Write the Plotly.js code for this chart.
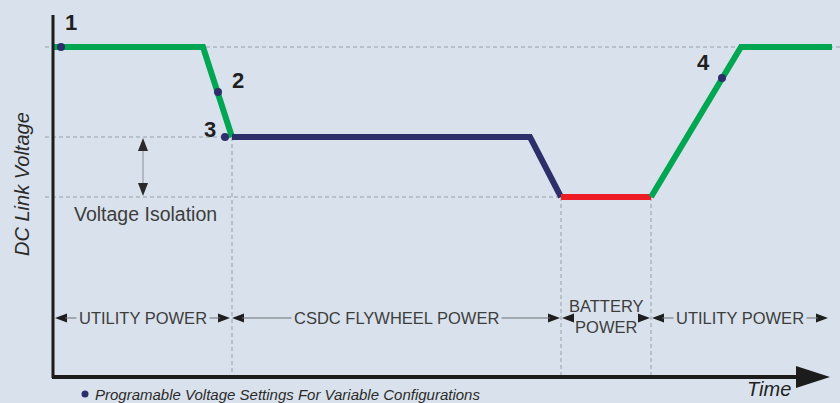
<!DOCTYPE html>
<html>
<head>
<meta charset="utf-8">
<script src="https://cdn.plot.ly/plotly-3.0.1.min.js"></script>
<style>html,body{margin:0;padding:0;background:#d9e2ec;}#chart{width:840px;height:403px;}</style>
</head>
<body>
<div id="chart"></div>
<script>
// ---- data (time units / voltage units on a schematic scale) ----
const utility1Time = [53, 203, 232];
const utility1Volt = [356, 356, 266];
const flywheelTime = [232, 530, 561];
const flywheelVolt = [266, 266, 206];
const batteryTime  = [561, 651];
const batteryVolt  = [206, 206];
const utility2Time = [651, 741, 832];
const utility2Volt = [206, 356, 356];

const setpointTime   = [61, 218, 225, 722];
const setpointVolt   = [356, 311, 266, 325];
const setpointLabels = ['1', '2', '3', '4'];

const phaseNames = ['UTILITY POWER', 'CSDC FLYWHEEL POWER', 'BATTERY<br>POWER', 'UTILITY POWER'];
const phaseStart = [55, 232, 562, 652];
const phaseEnd   = [230, 560, 650, 828];

const levelHigh = 356, levelMid = 266, levelLow = 206;
const axisTime0 = 53, axisVolt0 = 26, axisTimeEnd = 830, axisVoltTop = 388;

const BG = '#d9e2ec';
const GREEN = '#00a651', NAVY = '#2d2f6a', RED = '#ed1c24';

function seg(x, y, color) {
  return {x: x, y: y, type: 'scatter', mode: 'lines', hoverinfo: 'skip', showlegend: false,
          line: {color: color, width: 6, shape: 'linear'}};
}

const traces = [
  seg(utility1Time, utility1Volt, GREEN),
  seg(flywheelTime, flywheelVolt, NAVY),
  seg(batteryTime, batteryVolt, RED),
  seg(utility2Time, utility2Volt, GREEN),
  {x: setpointTime, y: setpointVolt, type: 'scatter', mode: 'markers', showlegend: false,
   marker: {color: NAVY, size: 8}, hoverinfo: 'skip'},
  {x: [85], y: [9], type: 'scatter', mode: 'markers', showlegend: false,
   marker: {color: NAVY, size: 7}, hoverinfo: 'skip'}
];

const dashStyle = {color: '#979ea8', width: 1, dash: '4px,3px'};
const shapes = [
  // dashed guides
  {type: 'line', layer: 'below', x0: 45, x1: 840, y0: levelHigh, y1: levelHigh, line: dashStyle},
  {type: 'line', layer: 'below', x0: 45, x1: flywheelTime[0], y0: levelMid, y1: levelMid, line: dashStyle},
  {type: 'line', layer: 'below', x0: 45, x1: batteryTime[0], y0: levelLow, y1: levelLow, line: dashStyle},
  {type: 'line', layer: 'below', x0: flywheelTime[0], x1: flywheelTime[0], y0: levelMid, y1: axisVolt0, line: dashStyle},
  {type: 'line', layer: 'below', x0: batteryTime[0], x1: batteryTime[0], y0: levelLow, y1: axisVolt0, line: dashStyle},
  {type: 'line', layer: 'below', x0: batteryTime[1], x1: batteryTime[1], y0: levelLow, y1: axisVolt0, line: dashStyle},
  // axes
  {type: 'line', x0: axisTime0, x1: axisTime0, y0: axisVolt0 - 1, y1: axisVoltTop, line: {color: '#1c1c1c', width: 3}},
  {type: 'line', x0: axisTime0 - 1, x1: 800, y0: axisVolt0, y1: axisVolt0, line: {color: '#1c1c1c', width: 4}},
  {type: 'path', path: `M 796 ${axisVolt0 + 11} L ${axisTimeEnd} ${axisVolt0} L 796 ${axisVolt0 - 11} Z`,
   fillcolor: '#1c1c1c', line: {width: 0}},
  // voltage isolation arrow
  {type: 'line', x0: 143, x1: 143, y0: levelMid - 12, y1: levelLow + 12, line: {color: '#8a8f96', width: 1}},
  {type: 'path', path: `M 143 ${levelMid - 1} L 138 ${levelMid - 14} L 148 ${levelMid - 14} Z`, fillcolor: '#2a2a2a', line: {width: 0}},
  {type: 'path', path: `M 143 ${levelLow + 1} L 138 ${levelLow + 14} L 148 ${levelLow + 14} Z`, fillcolor: '#2a2a2a', line: {width: 0}}
];

const phaseY = 85;
function head(tip, dir) { // dir=-1 points left, +1 points right
  const b = tip - dir * 12;
  return {type: 'path', path: `M ${tip} ${phaseY} L ${b} ${phaseY + 4.5} L ${b} ${phaseY - 4.5} Z`,
          fillcolor: '#1e1e1e', line: {width: 0}};
}
phaseNames.forEach((n, i) => {
  shapes.push(head(phaseStart[i], -1));
  shapes.push(head(phaseEnd[i], 1));
  if (i !== 2) {
    shapes.push({type: 'line', x0: phaseStart[i] + 10, x1: phaseEnd[i] - 10, y0: phaseY, y1: phaseY,
                 line: {color: '#6b6f75', width: 1}});
  }
});

const annotations = [];
setpointLabels.forEach((t, i) => {
  const off = [[10, 25], [20, 12], [-15, 8], [-19, 16]][i];
  annotations.push({x: setpointTime[i], y: setpointVolt[i], text: '<b>' + t + '</b>', showarrow: false,
    xshift: off[0], yshift: off[1], font: {family: 'Liberation Sans, Arial', size: 22, color: '#1f1f1f'}});
});
phaseNames.forEach((n, i) => {
  annotations.push({x: (phaseStart[i] + phaseEnd[i]) / 2, y: i === 2 ? 87 : phaseY, text: n, showarrow: false,
    bgcolor: i === 2 ? 'rgba(0,0,0,0)' : BG, borderpad: 2,
    font: {family: 'Liberation Sans, Arial', size: 16.5, color: '#3d3d3d'}});
});
annotations.push({x: 145, y: 403 - 214, text: 'Voltage Isolation', showarrow: false,
  font: {family: 'Liberation Sans, Arial', size: 19.5, color: '#3d3d3d'}});
annotations.push({x: 22, y: 403 - 184, text: '<i>DC Link Voltage</i>', showarrow: false, textangle: -90,
  font: {family: 'Liberation Sans, Arial', size: 20, color: '#2b2b2b'}});
annotations.push({x: 769, y: 403 - 389, text: '<i>Time</i>', showarrow: false,
  font: {family: 'Liberation Sans, Arial', size: 20, color: '#222'}});
annotations.push({x: 93, y: 9, xanchor: 'left', text: '<i>Programable Voltage Settings For Variable Configurations</i>',
  showarrow: false, font: {family: 'Liberation Sans, Arial', size: 15, color: '#2b2b2b'}});

const layout = {
  width: 840, height: 403,
  margin: {l: 0, r: 0, t: 0, b: 0},
  paper_bgcolor: BG, plot_bgcolor: BG,
  xaxis: {range: [0, 840], visible: false, fixedrange: true},
  yaxis: {range: [0, 403], visible: false, fixedrange: true},
  shapes: shapes, annotations: annotations, showlegend: false
};
Plotly.newPlot('chart', traces, layout, {displayModeBar: false, staticPlot: true});
</script>
</body>
</html>
